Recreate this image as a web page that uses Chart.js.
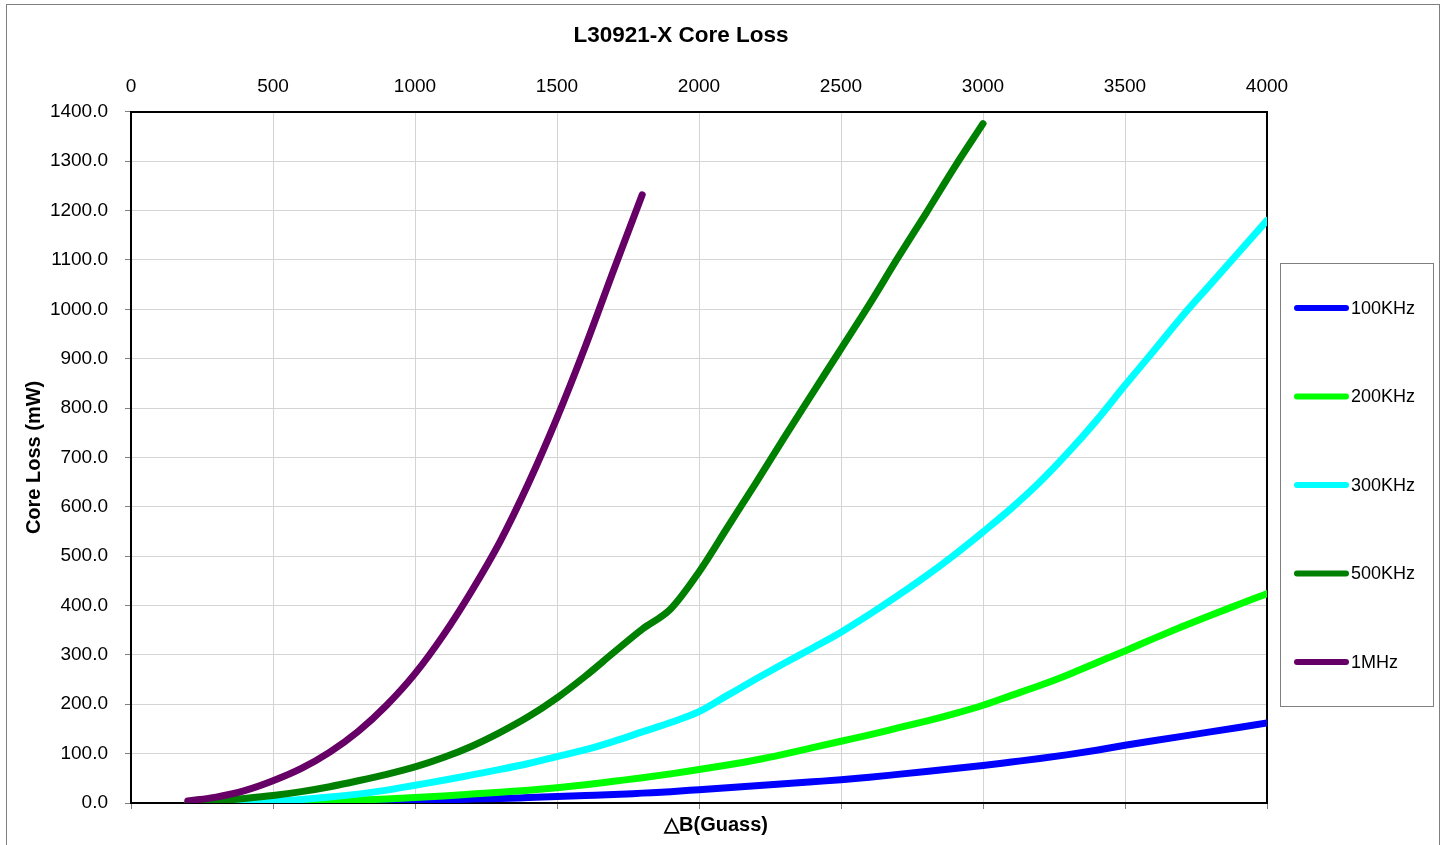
<!DOCTYPE html>
<html>
<head>
<meta charset="utf-8">
<title>L30921-X Core Loss</title>
<script src="https://cdn.jsdelivr.net/npm/chart.js@4.4.1/dist/chart.umd.min.js"></script>
<style>
html,body{margin:0;padding:0;background:#fff}
#wrap{position:relative;width:1447px;height:845px}
</style>
</head>
<body>
<div id="wrap"><canvas id="coreLoss" width="1447" height="845"></canvas></div>
<script>
// Gauss values (x) shared by all curves
const gauss=[200,300,400,500,600,700,800,900,1000,1100,1200,1300,1400,1500,1600,1700,1800,1900,2000,
  2100,2200,2300,2400,2500,2600,2700,2800,2900,3000,3100,3200,3300,3400,3500,3600,3700,3800,3900,4000];

// core loss (mW); curves that stop early are shorter
const loss100k=[0,0,0,1,1,2,3,4,5,6,8,9,11,13,15,17,20,23,27,31,35,39,43,47,52,58,64,70,76,83,90,98,107,117,126,135,144,153,162];
const loss200k=[0,0,0,1,2,4,6,8,11,14,18,22,26,31,37,44,51,59,68,77,87,99,112,125,138,152,166,181,198,218,238,260,284,308,333,357,380,402,424];
const loss300k=[0,0,1,3,7,12,18,26,36,46,57,68,80,94,108,125,144,163,185,218,251,283,314,346,382,420,460,503,549,597,650,710,775,846,915,985,1050,1115,1180];
const loss500k=[0,4,9,15,23,33,45,58,73,92,115,143,175,213,257,305,352,393,468,558,648,740,830,920,1010,1104,1195,1288,1376];
const loss1m=[4,12,25,45,70,103,145,198,262,340,430,530,648,780,925,1080,1232];

const seriesNames=['100KHz','200KHz','300KHz','500KHz','1MHz'];
const seriesColors=['#0000ff','#00ff00','#00ffff','#008000','#660066'];
const seriesValues=[loss100k,loss200k,loss300k,loss500k,loss1m];

const xTicks=[0,500,1000,1500,2000,2500,3000,3500,4000];

function pts(vals){ return vals.map((v,i)=>({x:gauss[i], y:v})) }

const FONT='"Liberation Sans", Arial, sans-serif';

// outer frame, titles and the boxed legend on the right
const decor={
  id:'decor',
  beforeDraw(chart){
    const c=chart.ctx;
    c.save();
    c.fillStyle='#fff'; c.fillRect(0,0,chart.width,chart.height);
    c.strokeStyle='#7f7f7f'; c.lineWidth=1;
    c.strokeRect(6.5,4.5,1433,900);
    c.restore();
  },
  afterDraw(chart){
    const c=chart.ctx;
    c.save();
    c.fillStyle='#000';
    c.textAlign='center'; c.textBaseline='middle';
    c.font='bold 22.5px '+FONT;
    c.fillText('L30921-X Core Loss',681,36);
    c.font='bold 20px '+FONT;
    c.fillText('△B(Guass)',716,825);

    // legend box
    c.strokeStyle='#7f7f7f'; c.lineWidth=1;
    c.strokeRect(1280.5,263.5,153,443);
    c.font='18px '+FONT;
    c.textAlign='left';
    chart.data.datasets.forEach((ds,i)=>{
      const y=308+i*88.5;
      c.strokeStyle=ds.borderColor; c.lineWidth=6; c.lineCap='round';
      c.beginPath(); c.moveTo(1297,y); c.lineTo(1346,y); c.stroke();
      c.fillStyle='#000';
      c.fillText(ds.label,1351,y+1);
    });
    c.restore();
  }
};

const datasets=seriesNames.map((name,i)=>({
  label:name,
  data:pts(seriesValues[i]),
  borderColor:seriesColors[i],
  backgroundColor:seriesColors[i],
  borderWidth:7,
  borderCapStyle:'round',
  borderJoinStyle:'round',
  pointRadius:0,
  cubicInterpolationMode:'monotone',
  fill:false,
  order:seriesNames.length-1-i
}));

new Chart(document.getElementById('coreLoss'),{
  type:'line',
  data:{datasets},
  plugins:[decor],
  options:{
    responsive:false,
    animation:false,
    layout:{padding:{left:22,right:180,top:61,bottom:36}},
    plugins:{legend:{display:false},title:{display:false},tooltip:{enabled:false}},
    scales:{
      x:{
        type:'linear',position:'bottom',min:0,max:4000,
        afterBuildTicks(s){ s.ticks=xTicks.map(v=>({value:v})) },
        ticks:{display:false},
        grid:{color:'#d4d4d4',tickColor:'#808080',tickLength:6},
        border:{display:true,color:'#000',width:2}
      },
      x2:{
        type:'linear',position:'top',min:0,max:4000,
        afterBuildTicks(s){ s.ticks=xTicks.map(v=>({value:v})) },
        ticks:{color:'#000',font:{family:FONT,size:19},padding:14,maxRotation:0,callback:v=>String(v)},
        grid:{drawOnChartArea:false,drawTicks:false},
        border:{display:true,color:'#000',width:2}
      },
      y:{
        type:'linear',position:'left',min:0,max:1400,
        afterFit(s){ s.width=109 },
        ticks:{stepSize:100,color:'#000',font:{family:FONT,size:19},padding:17,callback:v=>Number(v).toFixed(1)},
        grid:{color:'#d4d4d4',tickColor:'#808080',tickLength:6},
        border:{display:true,color:'#000',width:2},
        title:{display:true,text:'Core Loss (mW)',color:'#000',font:{family:FONT,size:20,weight:'bold'},padding:{top:0,bottom:4}}
      },
      y2:{
        type:'linear',position:'right',min:0,max:1400,
        ticks:{display:false},
        grid:{drawOnChartArea:false,drawTicks:false},
        border:{display:true,color:'#000',width:2}
      }
    }
  }
});
</script>
</body>
</html>
